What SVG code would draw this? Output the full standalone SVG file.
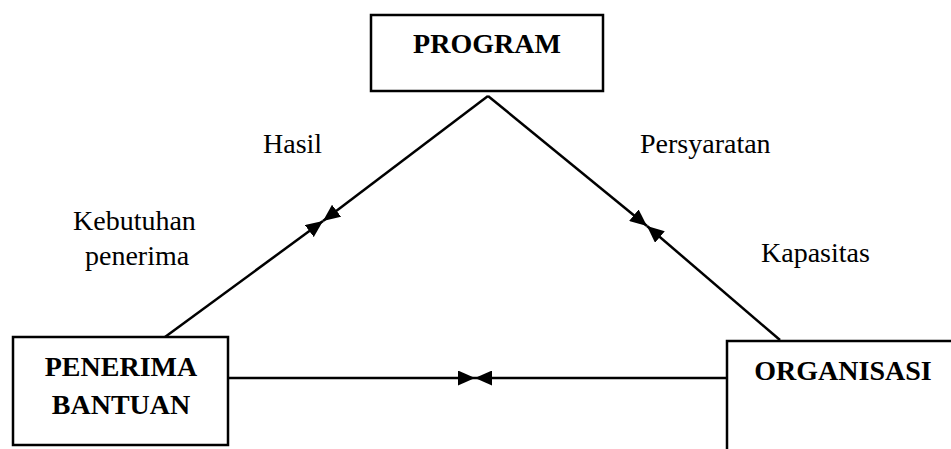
<svg xmlns="http://www.w3.org/2000/svg" width="951" height="449" viewBox="0 0 951 449">
<style>
.box{fill:#fff;stroke:#000;stroke-width:2.5}
.ln{stroke:#000;stroke-width:2.5;fill:none;marker-end:url(#ah)}
.t{font-family:"Liberation Serif","Times New Roman",serif;font-size:28px;fill:#000}
.b{font-family:"Liberation Serif","Times New Roman",serif;font-size:28px;font-weight:bold;fill:#000;text-anchor:middle}
</style>
<defs>
<marker id="ah" markerUnits="userSpaceOnUse" markerWidth="17" markerHeight="15" refX="17" refY="7.5" orient="auto">
<path d="M0,0 L17,7.5 L0,15 z" fill="#000"/>
</marker>
</defs>
<g id="connectors">
<line class="ln" x1="488" y1="96" x2="323" y2="221"/>
<line class="ln" x1="165" y1="337" x2="323" y2="221"/>
<line class="ln" x1="488" y1="96" x2="647" y2="226"/>
<line class="ln" x1="780" y1="340" x2="647" y2="226"/>
<line class="ln" x1="228" y1="378" x2="475" y2="378"/>
<line class="ln" x1="727" y1="378" x2="475" y2="378"/>
</g>
<g id="program">
<rect class="box" x="371" y="15" width="232" height="76"/>
<text class="b" x="487" y="53">PROGRAM</text>
</g>
<g id="penerima">
<rect class="box" x="13" y="337" width="215" height="108"/>
<text class="b" x="121" y="376">PENERIMA</text>
<text class="b" x="121" y="414">BANTUAN</text>
</g>
<g id="organisasi">
<rect class="box" x="727" y="341" width="300" height="200"/>
<text class="b" x="843" y="380">ORGANISASI</text>
</g>
<g id="labels">
<text class="t" x="263" y="153">Hasil</text>
<text class="t" x="640" y="153">Persyaratan</text>
<text class="t" x="73" y="230">Kebutuhan</text>
<text class="t" x="85" y="265">penerima</text>
<text class="t" x="761" y="262">Kapasitas</text>
</g>
</svg>
